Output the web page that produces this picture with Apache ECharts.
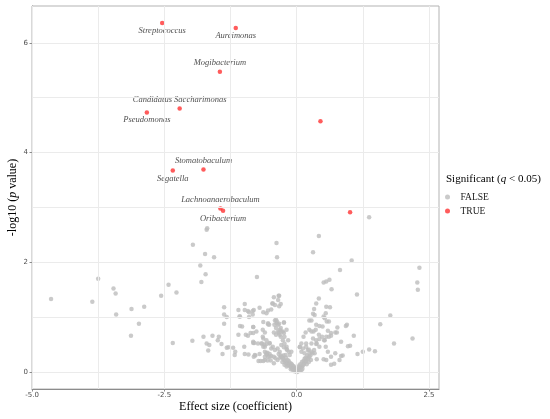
<!DOCTYPE html>
<html>
<head>
<meta charset="utf-8">
<script src="https://cdn.jsdelivr.net/npm/echarts@6/dist/echarts.min.js"></script>
<style>
  html, body { margin: 0; padding: 0; background: #fff; }
  #main { width: 550px; height: 419px; }
</style>
</head>
<body>
<div id="main"></div>
<script>
// significant taxa (TRUE), '' = no label
var sigNames = ['Streptococcus', 'Aureimonas', 'Mogibacterium', 'Candidatus Saccharimonas',
  'Pseudomonas', 'Stomatobaculum', 'Segatella', 'Lachnoanaerobaculum', 'Oribacterium', '', ''];
var sigX = [-2.54, -1.15, -1.45, -2.21, -2.83, -1.76, -2.34, -1.44, -1.39, 0.45, 1.01];
var sigY = [6.36, 6.27, 5.47, 4.80, 4.73, 3.69, 3.67, 2.98, 2.94, 4.57, 2.91];
var sigLabelSide = ['bottom', 'bottom', 'top', 'top', 'bottom', 'top', 'bottom', 'top', 'bottom', 'top', 'top'];

// non significant taxa (FALSE): [effect, -log10 p]
var nsPoints = [
  [-4.64,1.33],[-3.86,1.28],[-3.75,1.70],[-3.46,1.52],[-3.42,1.43],[-3.41,1.05],[-3.12,1.15],
  [-2.88,1.19],[-2.98,0.88],[-3.13,0.66],[-2.56,1.39],[-2.42,1.59],[-2.27,1.45],[-2.34,0.53],
  [-1.97,0.57],[-1.96,2.32],[-1.69,2.62],[-1.70,2.59],[-1.73,2.15],[-1.56,2.09],[-1.82,1.94],
  [-1.72,1.78],[-1.80,1.64],[-1.76,0.64],[-1.59,0.66],[-1.70,0.52],[-1.65,0.49],[-1.67,0.39],
  [-1.47,0.64],[-1.49,0.58],[-1.42,0.51],[-1.40,0.33],[-1.37,1.18],[-1.37,1.05],[-1.32,1.00],
  [-1.37,0.88],[-1.32,0.44],[-1.29,0.45],[-1.20,0.44],[-1.16,0.37],[-1.17,0.31],[-1.10,0.68],
  [-1.03,0.83],[-1.08,1.01],[-1.10,1.13],[-0.98,1.24],[-0.98,1.13],[-0.92,1.11],[-0.90,1.09],
  [-0.83,1.11],[-0.81,1.13],[-0.70,1.17],[-0.57,1.07],[-0.46,1.25],[-0.83,1.05],[-0.96,0.68],
  [-0.92,0.66],[-0.87,0.71],[-0.82,0.82],[-0.63,0.91],[-0.54,0.87],[-0.52,0.86],[-0.75,1.73],
  [-0.64,0.77],[-0.60,0.72],[-0.64,0.64],[-0.82,0.55],[-0.66,0.52],[-0.63,0.46],[-0.60,0.46],
  [-0.57,0.51],[-0.99,0.46],[-0.91,0.32],[-0.98,0.33],[-0.81,0.28],[-0.78,0.30],[-0.72,0.20],
  [-0.68,0.20],[-0.63,0.20],[-0.60,0.22],[-0.57,0.32],[-0.55,0.35],[-0.51,0.33],[-0.43,0.16],
  [-0.43,0.28],[-0.43,0.72],[-1.07,1.01],[-0.90,1.00],[-1.07,0.84],[-0.82,0.82],[-0.54,0.89],
  [-0.38,2.35],[-0.37,2.09],[-0.34,1.39],[-0.43,1.36],[-0.33,1.39],[-0.35,1.31],[-0.45,1.25],
  [-0.41,1.22],[-0.33,1.20],[-0.30,1.24],[-0.63,1.09],[-0.54,1.12],[-0.48,1.14],
  [-0.41,0.94],[-0.38,0.89],[-0.35,0.86],[-0.30,0.80],[-0.35,0.74],[-0.26,0.74],[-0.32,0.68],
  [-0.23,0.64],[-0.19,0.77],[-0.16,0.58],[-0.51,0.53],[-0.61,0.50],[-0.73,0.52],[-0.82,0.53],
  [-0.79,0.31],[-0.70,0.33],[-0.60,0.37],[-0.54,0.28],[-0.48,0.29],[-0.49,0.21],[-0.55,0.21],
  [-0.45,0.46],[-0.36,0.43],[-0.29,0.49],[-0.24,0.45],[-0.19,0.42],[-0.10,0.37],[-0.32,0.37],
  [-0.39,0.95],[-0.37,0.92],[-0.33,0.88],[-0.42,0.86],[-0.39,0.80],[-0.32,0.77],[-0.34,0.71],
  [-0.39,0.68],[-0.30,0.64],[-0.63,0.61],[-0.57,0.58],[-0.51,0.52],[-0.48,0.43],[-0.66,0.52],
  [-0.57,0.34],[-0.60,0.28],[-0.51,0.28],[-0.41,0.40],[-0.82,0.71],[-0.76,0.74],[-0.80,0.53],
  [-0.26,0.58],[-0.23,0.52],[-0.19,0.46],[-0.18,0.40],[-0.15,0.37],[-0.13,0.31],
  [-0.29,0.74],[-0.24,0.71],[-0.24,0.90],
  // centre
  [-0.02,0.01],[0.00,0.02],[0.02,0.03],[-0.04,0.04],[0.04,0.05],[-0.06,0.06],[0.06,0.07],
  [-0.08,0.05],[0.08,0.09],[-0.10,0.08],[0.10,0.10],[-0.12,0.10],[0.12,0.12],[-0.14,0.13],
  [0.14,0.15],[-0.16,0.12],[0.16,0.18],[-0.18,0.17],[0.18,0.20],[-0.20,0.16],[0.20,0.23],
  [-0.22,0.20],[0.22,0.25],[-0.24,0.22],[0.24,0.28],[-0.26,0.25],[0.26,0.30],[-0.28,0.27],
  [-0.30,0.30],[-0.32,0.26],[-0.05,0.10],[0.05,0.12],[-0.10,0.15],[0.10,0.18],[-0.15,0.20],
  [0.15,0.24],[-0.20,0.26],[0.20,0.30],[-0.25,0.30],[-0.03,0.07],[0.03,0.08],[-0.07,0.11],
  [0.07,0.14],[-0.11,0.05],[0.11,0.06],[-0.13,0.17],[0.13,0.20],[-0.17,0.22],[0.17,0.26],
  [-0.19,0.10],[0.19,0.14],[-0.09,0.13],[0.09,0.03],[-0.01,0.05],[0.01,0.00],[-0.23,0.13],
  [0.23,0.18],[-0.27,0.18],[0.27,0.22],[-0.34,0.33],[0.30,0.34],[-0.06,0.02],[0.06,0.02],
  [-0.29,0.28],[-0.36,0.22],[-0.40,0.25],[-0.21,0.31],
  // right
  [0.42,2.48],[0.31,2.18],[1.04,2.03],[0.82,1.86],[1.37,2.82],[2.32,1.90],[2.28,1.63],
  [2.29,1.50],[0.51,1.63],[0.56,1.65],[0.62,1.68],[0.66,1.51],[1.14,1.41],[1.77,1.03],
  [1.58,0.87],[2.19,0.61],[1.84,0.52],[1.48,0.38],[1.37,0.41],[1.25,0.37],[1.15,0.33],
  [1.08,0.66],[0.93,0.84],[1.01,0.48],[0.87,0.30],[0.81,0.22],[0.71,0.15],[0.73,0.34],
  [0.84,0.55],[0.63,1.18],[0.56,1.19],[0.42,1.34],[0.37,1.25],[0.33,1.15],[0.34,1.04],
  [0.24,0.94],[0.28,0.94],[0.55,1.07],[0.53,0.98],[0.57,0.92],[0.37,0.86],[0.43,0.84],
  [0.49,0.83],[0.59,0.75],[0.65,0.71],[0.17,0.72],[0.24,0.77],[0.32,0.74],[0.42,0.68],
  [0.48,0.64],[0.52,0.58],[0.38,0.52],[0.43,0.46],[0.33,0.40],[0.55,0.46],[0.59,0.37],
  [0.51,0.23],[0.56,0.22],[0.65,0.28],[0.31,1.06],[0.51,1.01],[0.61,0.92],[0.77,0.81],
  [0.73,0.72],[0.84,0.29],[0.38,0.23],[0.65,0.13],[0.95,0.86],[0.97,0.47],[0.76,0.72],
  [0.06,0.45],[0.12,0.43],[0.09,0.37],[0.15,0.34],[0.21,0.40],[0.28,0.37],[0.34,0.34],
  [0.36,0.77],[0.28,0.74],[0.31,0.61],[0.37,0.58],[0.43,0.60],[0.53,0.58],[0.18,0.52],
  [0.28,0.52],[0.37,0.51],[0.56,0.64],[0.61,0.64],[0.65,0.66],[0.06,0.46],[0.09,0.52],
  [0.13,0.64],[0.18,0.46],[0.23,0.41],[0.24,0.34],[-0.24,0.90]
];

// axis ticks and grid lines
var xTicks = [-5, -2.5, 0, 2.5];
var yTicks = [0, 2, 4, 6];
var xGrid = [-5, -3.75, -2.5, -1.25, 0, 1.25, 2.5];
var yGrid = [0, 1, 2, 3, 4, 5, 6];

var serif = 'Liberation Serif';
var chart = echarts.init(document.getElementById('main'), null, { renderer: 'canvas' });

var sigData = sigNames.map(function (n, i) {
  return {
    name: n,
    value: [sigX[i], sigY[i]],
    label: {
      show: n !== '',
      position: sigLabelSide[i],
      distance: sigLabelSide[i] === 'top' ? 2 : 1
    }
  };
});

var gridLines = xGrid.map(function (v) { return { xAxis: v }; })
  .concat(yGrid.map(function (v) { return { yAxis: v }; }));

var option = {
  animation: false,
  grid: {
    left: 32, top: 6, right: 111, bottom: 30,
    outerBoundsMode: 'none',
    show: true, borderColor: '#b3b3b3', borderWidth: 1, backgroundColor: '#fff'
  },
  xAxis: {
    type: 'value', min: -5, max: 2.69,
    splitLine: { show: false },
    axisLine: { show: true, onZero: false, lineStyle: { color: '#8c8c8c' } },
    axisTick: { show: true, length: 2.5, customValues: xTicks, lineStyle: { color: '#8c8c8c' } },
    axisLabel: {
      customValues: xTicks, margin: 3, fontSize: 7, color: '#4d4d4d', fontFamily: 'DejaVu Sans',
      formatter: function (v) { return v.toFixed(1); }
    },
    name: 'Effect size (coefficient)',
    nameLocation: 'middle', nameGap: 12, nameMoveOverlap: false,
    nameTextStyle: { fontFamily: serif, fontSize: 12, color: '#000' }
  },
  yAxis: {
    type: 'value', min: -0.31, max: 6.67,
    splitLine: { show: false },
    axisLine: { show: true, onZero: false, lineStyle: { color: '#8c8c8c' } },
    axisTick: { show: true, length: 2.5, customValues: yTicks, lineStyle: { color: '#8c8c8c' } },
    axisLabel: {
      customValues: yTicks, margin: 4, fontSize: 7, color: '#4d4d4d', fontFamily: 'DejaVu Sans',
      formatter: function (v) { return String(v); }
    },
    name: '-log10 ({i|p} value)',
    nameLocation: 'middle', nameGap: 13, nameRotate: 90, nameMoveOverlap: false,
    nameTextStyle: {
      fontFamily: serif, fontSize: 12, color: '#000',
      rich: { i: { fontFamily: serif, fontSize: 12, fontStyle: 'italic', color: '#000' } }
    }
  },
  legend: {
    orient: 'vertical', left: 440, top: 186,
    data: ['FALSE', 'TRUE'],
    icon: 'circle', itemWidth: 16, itemHeight: 5, itemGap: 2,
    textStyle: { fontFamily: serif, fontSize: 9.5, color: '#1a1a1a', lineHeight: 12 },
    selectedMode: false
  },
  graphic: [{
    type: 'text', left: 446, top: 174,
    style: {
      text: 'Significant ({i|q} < 0.05)',
      font: '11px "Liberation Serif"', fill: '#000',
      rich: { i: { fontFamily: serif, fontSize: 11, fontStyle: 'italic', fill: '#000' } }
    }
  }],
  series: [
    {
      name: 'grid', type: 'scatter', data: [], silent: true, z: 1,
      markLine: {
        silent: true, symbol: 'none', label: { show: false },
        lineStyle: { color: '#ebebeb', width: 1, type: 'solid' },
        emphasis: { disabled: true },
        data: gridLines
      }
    },
    {
      name: 'FALSE', type: 'scatter', z: 3,
      symbolSize: 4.5,
      itemStyle: { color: '#bdbdbd' },
      data: nsPoints
    },
    {
      name: 'TRUE', type: 'scatter', z: 4,
      symbolSize: 4.5,
      itemStyle: { color: '#ff3333' },
      label: {
        formatter: '{b}', fontFamily: serif, fontStyle: 'italic', fontSize: 8.5, color: '#222'
      },
      labelLayout: { hideOverlap: false },
      data: sigData
    }
  ]
};

chart.setOption(option);
</script>
</body>
</html>
